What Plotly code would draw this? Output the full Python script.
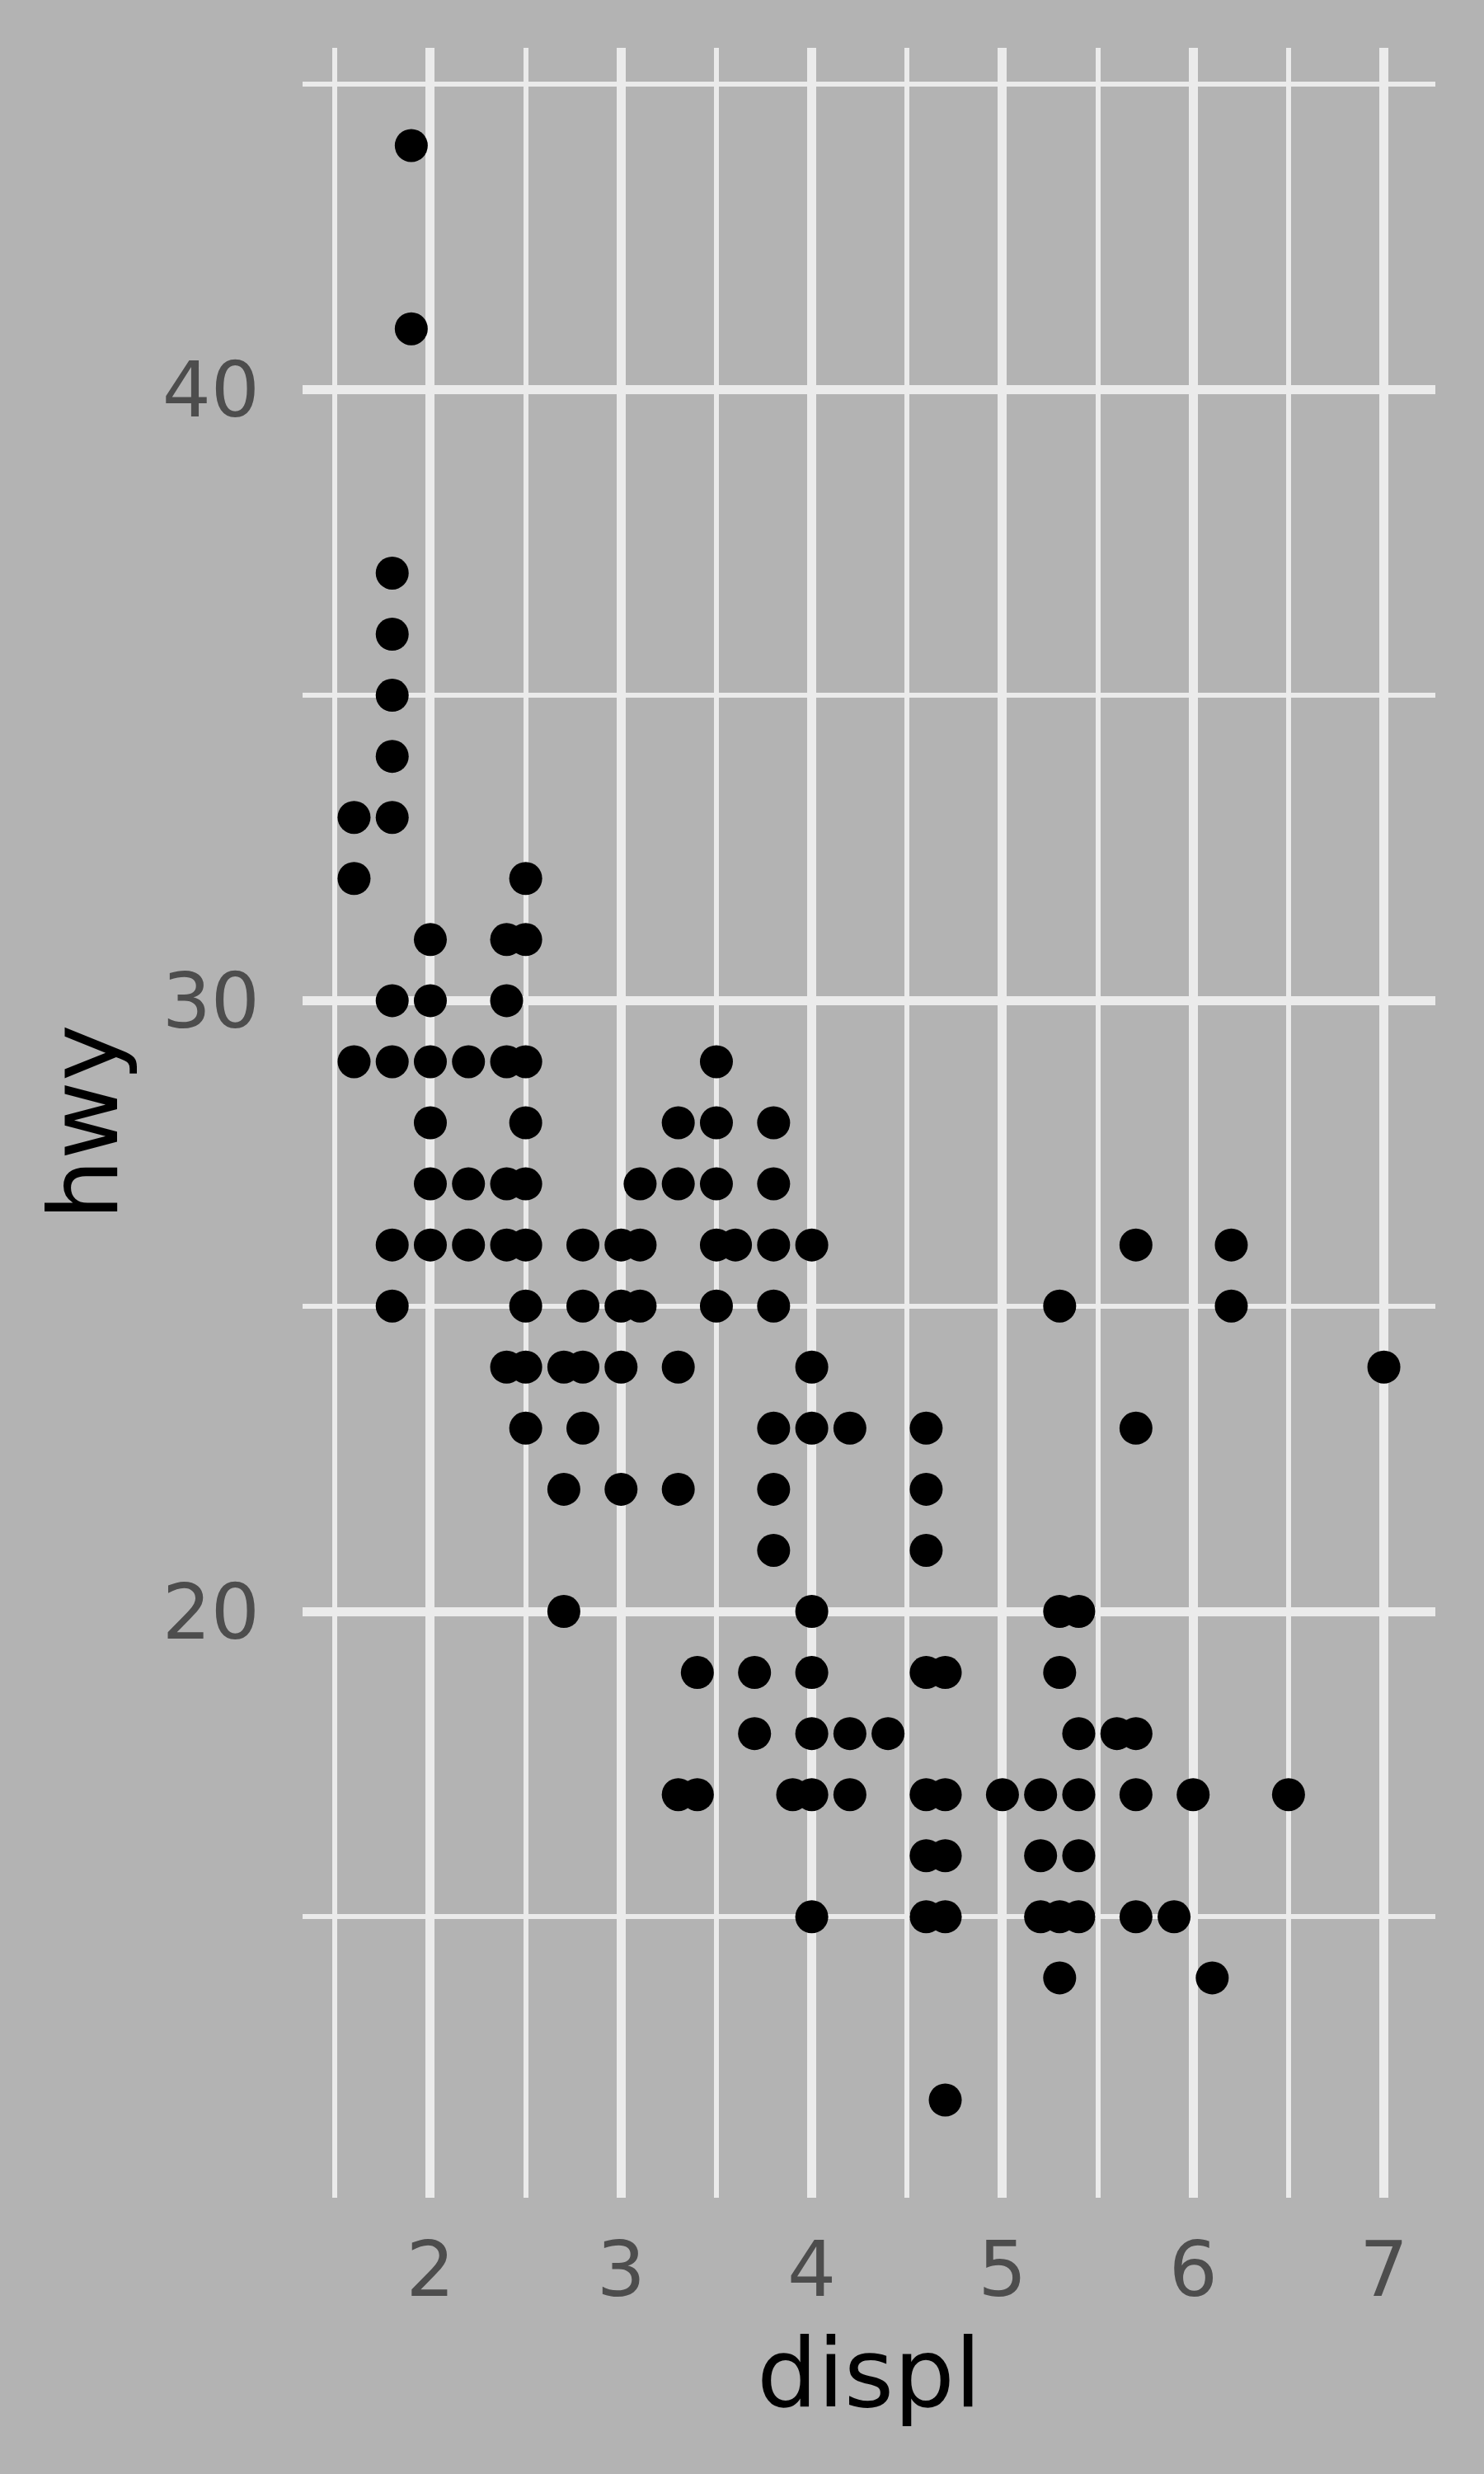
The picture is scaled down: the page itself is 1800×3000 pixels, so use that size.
import plotly.graph_objects as go

# Engine displacement (litres) and highway mpg
displ = [
    1.6, 1.6, 1.6,
    1.8, 1.8, 1.8, 1.8, 1.8, 1.8, 1.8, 1.8, 1.8,
    1.9, 1.9,
    2.0, 2.0, 2.0, 2.0, 2.0, 2.0,
    2.2, 2.2, 2.2,
    2.4, 2.4, 2.4, 2.4, 2.4, 2.4,
    2.5, 2.5, 2.5, 2.5, 2.5, 2.5, 2.5, 2.5, 2.5,
    2.7, 2.7, 2.7,
    2.8, 2.8, 2.8, 2.8,
    3.0, 3.0, 3.0, 3.0,
    3.1, 3.1, 3.1,
    3.3, 3.3, 3.3, 3.3, 3.3,
    3.4, 3.4,
    3.5, 3.5, 3.5, 3.5, 3.5,
    3.6,
    3.7, 3.7,
    3.8, 3.8, 3.8, 3.8, 3.8, 3.8, 3.8,
    3.9,
    4.0, 4.0, 4.0, 4.0, 4.0, 4.0, 4.0, 4.0,
    4.2, 4.2, 4.2,
    4.4,
    4.6, 4.6, 4.6, 4.6, 4.6, 4.6, 4.6,
    4.7, 4.7, 4.7, 4.7, 4.7,
    5.0,
    5.2, 5.2, 5.2,
    5.3, 5.3, 5.3, 5.3, 5.3,
    5.4, 5.4, 5.4, 5.4, 5.4,
    5.6,
    5.7, 5.7, 5.7, 5.7, 5.7,
    5.9,
    6.0,
    6.1,
    6.2, 6.2,
    6.5,
    7.0,
]
hwy = [
    33, 32, 29,
    37, 36, 35, 34, 33, 30, 29, 26, 25,
    44, 41,
    31, 30, 29, 28, 27, 26,
    29, 27, 26,
    31, 30, 29, 27, 26, 24,
    32, 31, 29, 28, 27, 26, 25, 24, 23,
    24, 22, 20,
    26, 25, 24, 23,
    26, 25, 24, 22,
    27, 26, 25,
    28, 27, 24, 22, 17,
    19, 17,
    29, 28, 27, 26, 25,
    26,
    19, 18,
    28, 27, 26, 25, 23, 22, 21,
    17,
    26, 24, 23, 20, 19, 18, 17, 15,
    23, 18, 17,
    18,
    23, 22, 21, 19, 17, 16, 15,
    19, 17, 16, 15, 12,
    17,
    17, 16, 15,
    25, 20, 19, 15, 14,
    20, 18, 17, 16, 15,
    18,
    26, 23, 18, 17, 15,
    15,
    17,
    14,
    26, 25,
    17,
    24,
]

x_title = "displ"
y_title = "hwy"

W, H = 1800, 3000
L, R, T, B = 367, 59, 58, 335
pw, ph = W - L - R, H - T - B

BG = "#B3B3B3"
GRID = "#EBEBEB"
FONT = "DejaVu Sans"

fig = go.Figure()
fig.add_trace(go.Scatter(
    x=displ, y=hwy, mode="markers",
    marker=dict(color="black", size=40, line=dict(width=0)),
    showlegend=False, hoverinfo="skip",
))

xmin, xmax = min(displ), max(displ)
ymin, ymax = min(hwy), max(hwy)
xpad = 0.05 * (xmax - xmin)
ypad = 0.05 * (ymax - ymin)

fig.update_layout(
    width=W, height=H,
    margin=dict(l=L, r=R, t=T, b=B, pad=0),
    paper_bgcolor=BG, plot_bgcolor=BG,
    font=dict(family=FONT, color="#4D4D4D", size=93),
    showlegend=False,
)
fig.update_xaxes(
    range=[xmin - xpad, xmax + xpad],
    tickmode="linear", tick0=0, dtick=1,
    showgrid=True, gridcolor=GRID, gridwidth=11,
    minor=dict(tickmode="linear", tick0=0.5, dtick=1, showgrid=True,
               gridcolor=GRID, gridwidth=5.5, ticks=""),
    zeroline=False, showline=False, ticks="",
    ticklabelstandoff=25,
    tickfont=dict(family=FONT, color="#4D4D4D", size=93),
    automargin=False,
)
fig.update_yaxes(
    range=[ymin - ypad, ymax + ypad],
    tickmode="linear", tick0=0, dtick=10,
    showgrid=True, gridcolor=GRID, gridwidth=11,
    minor=dict(tickmode="linear", tick0=5, dtick=10, showgrid=True,
               gridcolor=GRID, gridwidth=5.5, ticks=""),
    zeroline=False, showline=False, ticks="",
    ticklabelstandoff=51,
    tickfont=dict(family=FONT, color="#4D4D4D", size=93),
    automargin=False,
)

fig.add_annotation(
    text=x_title, xref="paper", yref="paper",
    x=0.5, y=(T + ph - 2878) / ph,
    xanchor="center", yanchor="middle", showarrow=False,
    font=dict(family=FONT, color="black", size=116),
)
fig.add_annotation(
    text=y_title, xref="paper", yref="paper",
    x=(101 - L) / pw, y=0.5, textangle=-90,
    xanchor="center", yanchor="middle", showarrow=False,
    font=dict(family=FONT, color="black", size=116),
)

fig.write_html("out.html")
